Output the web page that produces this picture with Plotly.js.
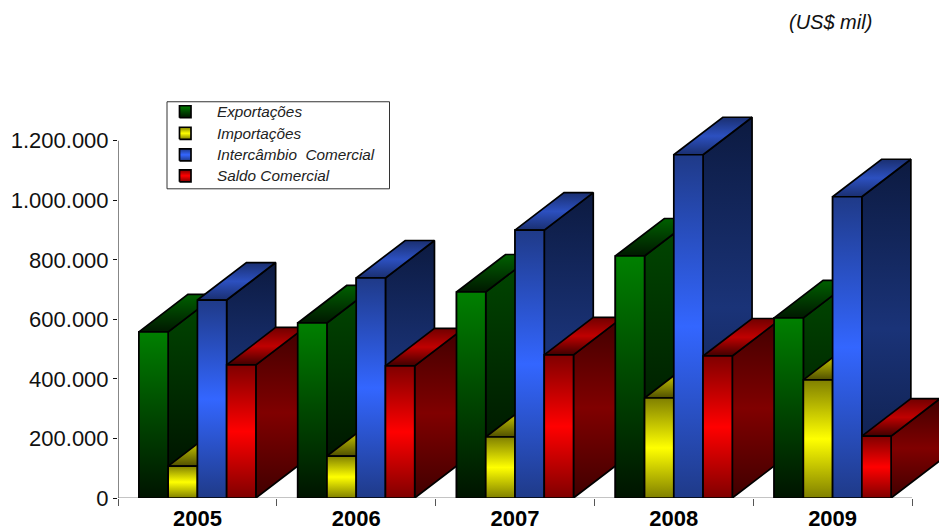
<!DOCTYPE html>
<html>
<head>
<meta charset="utf-8">
<script src="https://cdn.plot.ly/plotly-3.0.1.min.js"></script>
<style>html,body{margin:0;padding:0;background:#fff;overflow:hidden}#c{width:939px;height:532px}</style>
</head>
<body>
<div id="c"></div>
<script>
var years = ['2005','2006','2007','2008','2009'];
var exportacoes = [558000, 588000, 692000, 813000, 605000];
var importacoes = [107000, 141000, 205000, 336000, 397000];
var intercambio = [665000, 739000, 900000, 1153000, 1012000];
var saldo = [447000, 444000, 481000, 477000, 208000];
var seriesNames = ['Exporta\u00e7\u00f5es','Importa\u00e7\u00f5es','Interc\u00e2mbio\u00a0\u00a0Comercial','Saldo Comercial'];

var seriesValues = [exportacoes, importacoes, intercambio, saldo];
var barW = 0.1842, depthX = 0.3086, depthY = 126000;
var catPx = 158.8, yTop = 1337000, xTop = 4.67;
var plotL = 118, plotB = 498, pxPerVal = 357/1200000;
var swatch = ['#006000','#e0e000','#2f55d8','#e00000'];
// gradient stops: [bottom, middle, top] for front, side, roof
var fronts = [['#001400','#004800','#008000'],['#808000','#ffff00','#808000'],['#1f3a88','#3366ff','#1f3a88'],['#800000','#ff0000','#800000']];
var sides  = [['#000c00','#002a00','#004800'],['#403f00','#807f00','#403f00'],['#0c1a40','#1a3378','#0c1a40'],['#400000','#800000','#400000']];
var roofs  = [['#001800','#003c00','#006000'],['#504f00','#b0b000','#605f00'],['#1a2f70','#2c50c0','#1a2f70'],['#400000','#c00000','#700000']];

function scale(c){return [[0,c[0]],[0.5,c[1]],[1,c[2]]];}
var data = [];
seriesValues.forEach(function(vals,j){
  data.push({type:'bar',name:seriesNames[j],x:years,y:vals,
    marker:{color:swatch[j],line:{color:'#111',width:1.5}},hoverinfo:'name+y',showlegend:false});
});
function face(xs,ys,c){
  data.push({type:'scatter',mode:'lines',xaxis:'x2',yaxis:'y',x:xs,y:ys,fill:'toself',
    fillgradient:{type:'vertical',colorscale:scale(c)},
    line:{color:'#000',width:1.7},showlegend:false,hoverinfo:'skip'});
}
years.forEach(function(_,i){
  seriesValues.forEach(function(vals,j){
    var v = vals[i], l = i+(j-2)*barW, r = l+barW;
    face([r,r,r+depthX,r+depthX,r],[0,v,v+depthY,depthY,0],sides[j]);
    face([l,r,r+depthX,l+depthX,l],[v,v,v+depthY,v+depthY,v],roofs[j]);
    face([l,r,r,l,l],[0,0,v,v,0],fronts[j]);
  });
});

// legend, placed in page pixels through the same axes
function pxX(p){return -0.5+(p-plotL)/catPx;}
function pxY(p){return (plotB-p)/pxPerVal;}
var annotations = [{text:'(US$ mil)',xref:'paper',yref:'paper',x:(874-plotL)/821,y:(plotB-22)/398,xanchor:'right',yanchor:'middle',
  showarrow:false,font:{size:20,style:'italic',color:'#111'}}];
var legendRows = [112,133.5,155,176];
seriesNames.forEach(function(n,j){
  var cy = legendRows[j];
  var c = fronts[j];
  face([pxX(179.5),pxX(191),pxX(191),pxX(179.5),pxX(179.5)],[pxY(cy+6),pxY(cy+6),pxY(cy-6),pxY(cy-6),pxY(cy+6)],c);
  annotations.push({text:n,xref:'x2',yref:'y',x:pxX(215),y:pxY(cy),xanchor:'left',yanchor:'middle',showarrow:false,
    font:{size:15.3,style:'italic',color:'#222'}});
});

var shapes = [
  {type:'rect',xref:'x2',yref:'y',x0:pxX(167),x1:pxX(389.5),y0:pxY(102),y1:pxY(189),fillcolor:'#fff',line:{color:'#333',width:1},layer:'below'},
  {type:'line',xref:'x2',yref:'y',x0:-0.5,x1:4.5,y0:0,y1:0,line:{color:'#888',width:1},layer:'below'},
  {type:'line',xref:'x2',yref:'y',x0:-0.5,x1:-0.5,y0:0,y1:1200000,line:{color:'#111',width:1},layer:'above'}
];

var layout = {
  width:939,height:532,paper_bgcolor:'#fff',plot_bgcolor:'#fff',
  margin:{l:plotL,r:0,t:100,b:34,pad:0},
  separators:',.',
  barmode:'group',bargap:1-4*barW,bargroupgap:0,
  font:{family:'"Liberation Sans",Arial,sans-serif',color:'#000'},
  showlegend:false,
  xaxis:{type:'category',range:[-0.5,xTop],tickson:'boundaries',ticks:'outside',ticklen:7,tickcolor:'#555',tickwidth:1,
    showline:false,showgrid:false,zeroline:false,layer:'below traces',ticklabelstandoff:5,
    tickfont:{size:22,family:'"Liberation Sans",Arial,sans-serif',weight:'bold',color:'#000'}},
  xaxis2:{overlaying:'x',range:[-0.5,xTop],visible:false,fixedrange:true},
  yaxis:{range:[0,yTop],tickvals:[0,200000,400000,600000,800000,1000000,1200000],tickformat:',d',
    ticks:'outside',ticklen:4,tickcolor:'#111',showline:false,showgrid:false,zeroline:false,
    tickfont:{size:22,color:'#111'},automargin:false},
  annotations:annotations,
  shapes:shapes
};
Plotly.newPlot('c',data,layout,{displayModeBar:false,staticPlot:true});
</script>
</body>
</html>
